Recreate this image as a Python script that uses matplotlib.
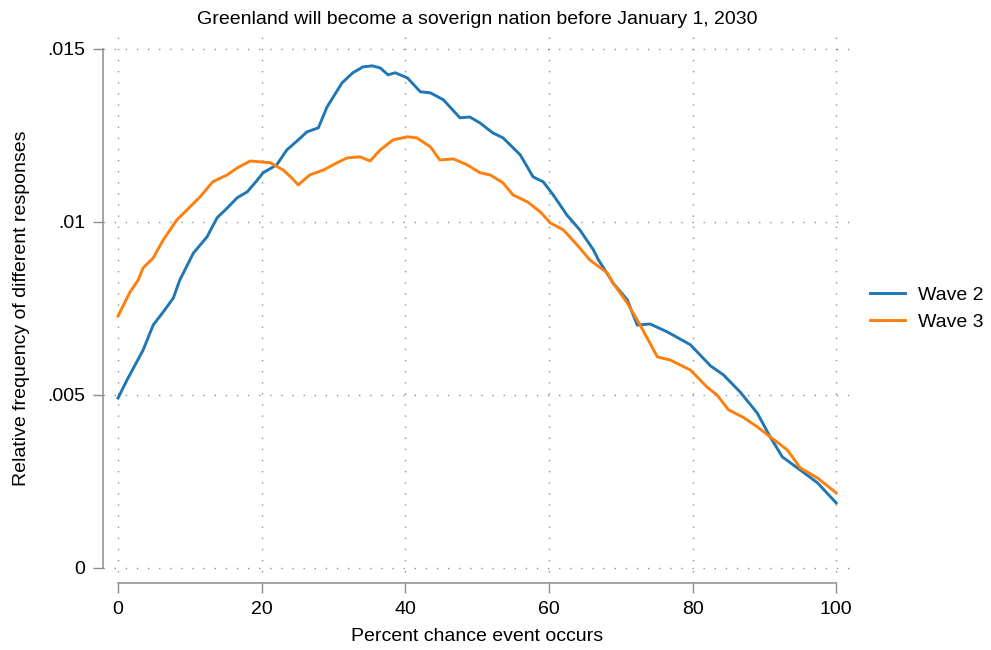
"""Kernel-density style curves: Greenland sovereignty question, waves 2 and 3."""

import matplotlib.pyplot as plt

plt.rcParams["font.family"] = ["Liberation Sans", "DejaVu Sans"]

# values
wave2_x = [0, 1.25, 3.5, 4.9, 6.3, 7.7, 8.6, 10.5, 12.4, 13.8, 15.2, 16.6, 18.0, 19.4,
           20.2, 22.1, 23.5, 25.1, 26.3, 27.9, 29.1, 31.2, 32.7, 34.1, 35.4, 36.5,
           37.6, 38.6, 40.3, 42.1, 43.5, 45.3, 47.6, 49.0, 50.4, 52.2, 53.6, 56.0,
           57.8, 59.2, 60.6, 62.5, 64.3, 66.2, 66.9, 68.5, 68.9, 70.9, 72.3, 74.1,
           76.5, 79.7, 82.5, 84.3, 86.6, 89.0, 90.8, 92.5, 95.0, 97.4, 100]
wave2_y = [0.00491, 0.00543, 0.0063, 0.00702, 0.0074, 0.0078, 0.00832, 0.0091, 0.00957,
           0.01012, 0.0104, 0.0107, 0.01087, 0.01121, 0.01142, 0.01165, 0.01208,
           0.01237, 0.0126, 0.01272, 0.01332, 0.01402, 0.01431, 0.01448, 0.01451,
           0.01445, 0.01425, 0.01431, 0.01416, 0.01376, 0.01373, 0.01353, 0.01301,
           0.01303, 0.01286, 0.01257, 0.01243, 0.01194, 0.0113, 0.01116, 0.01078,
           0.0102, 0.00977, 0.00919, 0.0089, 0.00838, 0.00824, 0.00775, 0.00702,
           0.00705, 0.00682, 0.00645, 0.00584, 0.00558, 0.00509, 0.00448, 0.00379,
           0.00321, 0.00283, 0.00246, 0.00188]

wave3_x = [0, 1.25, 1.7, 2.8, 3.5, 4.9, 6.3, 8.2, 10.0, 11.4, 13.2, 15.2, 16.6, 18.4,
           20.1, 21.2, 23.0, 24.2, 25.1, 26.7, 28.6, 30.5, 31.9, 33.7, 35.1, 36.5,
           38.3, 40.3, 41.6, 43.5, 44.8, 46.7, 48.6, 50.4, 51.8, 53.6, 55.0, 57.0,
           58.8, 60.2, 62.0, 63.9, 65.7, 68.1, 68.9, 70.9, 72.7, 75.1, 76.9, 79.7,
           82.0, 83.4, 85.0, 87.0, 89.0, 90.8, 93.2, 95.0, 97.4, 100]
wave3_y = [0.00728, 0.0078, 0.00798, 0.00832, 0.00867, 0.00896, 0.00948, 0.01006,
           0.01043, 0.01072, 0.01116, 0.01136, 0.01156, 0.01176, 0.01173, 0.01171,
           0.0115, 0.01127, 0.01107, 0.01136, 0.0115, 0.01171, 0.01185, 0.01188,
           0.01176, 0.01208, 0.01237, 0.01246, 0.01243, 0.01217, 0.01179, 0.01182,
           0.01165, 0.01142, 0.01136, 0.01113, 0.01078, 0.01058, 0.01029, 0.00997,
           0.00977, 0.00934, 0.0089, 0.00853, 0.00824, 0.00766, 0.00702, 0.0061,
           0.00601, 0.00572, 0.00523, 0.005, 0.00457, 0.00436, 0.00408, 0.00379,
           0.00341, 0.00289, 0.0026, 0.00217]

x_ticks = [0, 20, 40, 60, 80, 100]
y_ticks = [0, 0.005, 0.01, 0.015]
y_tick_labels = ["0", ".005", ".01", ".015"]

axis_grey = "#8c8c8c"

fig = plt.figure(figsize=(9.91, 6.5), dpi=100)
ax = fig.add_axes([103 / 991, 67 / 650, 749 / 991, 549 / 650])

ax.plot(wave2_x, wave2_y, color="#1f77b4", lw=2.1, label="Wave 2")
ax.plot(wave3_x, wave3_y, color="#ff7f0e", lw=2.1, label="Wave 3")

ax.set_xlim(-2.09, 102.2)
ax.set_ylim(-0.000434, 0.01543)
ax.set_xticks(x_ticks)
ax.set_yticks(y_ticks)
ax.set_yticklabels(y_tick_labels)

ax.grid(True, color="#909090", linestyle=(0, (1, 7)), lw=1)
ax.set_axisbelow(True)

for side in ("top", "right"):
    ax.spines[side].set_visible(False)
for side in ("left", "bottom"):
    ax.spines[side].set_color(axis_grey)
    ax.spines[side].set_linewidth(1.1)
ax.spines["left"].set_bounds(0, 0.015)
ax.spines["bottom"].set_bounds(0, 100)
ax.tick_params(length=7, width=1, color=axis_grey, labelsize=14, pad=6)

ax.set_xlabel("Percent chance event occurs", fontsize=14, labelpad=7)
ax.set_ylabel("Relative frequency of different responses", fontsize=14, labelpad=12)
ax.set_title("Greenland will become a soverign nation before January 1, 2030",
             fontsize=14, pad=7)

ax.legend(loc="center left", bbox_to_anchor=(1.0, 0.5), frameon=False,
          fontsize=14, handlelength=1.8, handletextpad=0.7, labelspacing=0.5)

fig.savefig("out.png", dpi=100)
